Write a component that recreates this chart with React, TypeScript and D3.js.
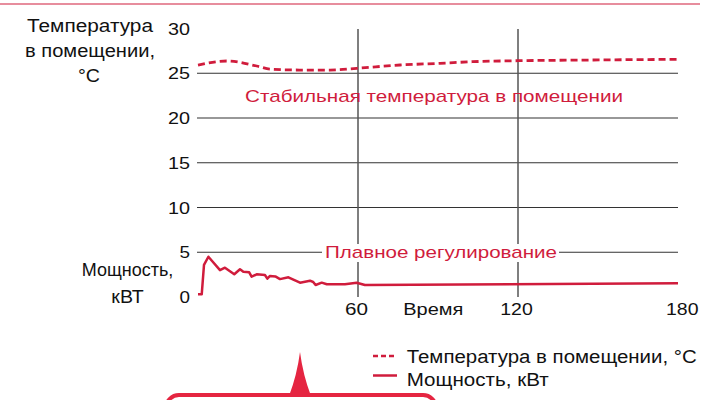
import React from "react";
import * as d3 from "d3";

const timeTicks = [60, 120, 180];
const tempTicks = [0, 5, 10, 15, 20, 25, 30];
const gridValues = [5, 10, 15, 20, 25];

const tempTime = [0, 10.8, 22, 27, 38, 49.5, 59.5, 75.75, 90.75, 103, 120, 148, 180];
const tempValue = [25.92, 26.37, 25.81, 25.47, 25.36, 25.36, 25.55, 25.92, 26.11, 26.29, 26.4, 26.48, 26.56];

const powerTime = [0, 1.4, 2.25, 3.9, 8.25, 10.1, 13.6, 15.75, 17, 19.2, 20.1, 22, 25.1, 26, 27, 29, 30.75, 33.9, 38.25, 42, 43.2, 44.1, 46.4, 48.3, 55.1, 59.5, 62.6, 180];
const powerValue = [0.3, 0.3, 3.58, 4.5, 3.0, 3.27, 2.54, 3.1, 2.83, 2.76, 2.27, 2.54, 2.46, 2.05, 2.35, 2.3, 2.0, 2.2, 1.6, 1.82, 1.68, 1.34, 1.6, 1.42, 1.42, 1.6, 1.34, 1.53];

const RED = "#d01c3c";
const BOX_RED = "#e52541";
const FONT = "'Liberation Sans', Arial, Helvetica, sans-serif";

export default function App() {
  const x = d3.scaleLinear().domain([0, 180]).range([198, 678]);
  const y = d3.scaleLinear().domain([0, 30]).range([297, 28.5]);

  const tempLine = d3
    .line<number>()
    .x((_, i) => x(tempTime[i]))
    .y((d) => y(d))
    .curve(d3.curveMonotoneX)(tempValue);

  const powerLine = d3
    .line<number>()
    .x((_, i) => x(powerTime[i]))
    .y((d) => y(d))(powerValue);

  const T = (props: any) => (
    <text fontFamily={FONT} lengthAdjust="spacingAndGlyphs" {...props} />
  );

  const lastTick = timeTicks[timeTicks.length - 1];

  return (
    <svg
      width={725}
      height={400}
      style={{ position: "absolute", left: 0, top: 0, background: "#fff" }}
    >
      {/* top rule */}
      <line x1={0} x2={700} y1={4} y2={4} stroke={RED} strokeWidth={1.2} />

      {/* horizontal grid */}
      {gridValues.map((v) => (
        <line key={v} x1={197} x2={678} y1={y(v)} y2={y(v)} stroke="#333" strokeWidth={1.2} />
      ))}
      {/* vertical grid */}
      {timeTicks.slice(0, 2).map((t) => (
        <line key={t} x1={x(t)} x2={x(t)} y1={29} y2={297} stroke="#555" strokeWidth={1.5} />
      ))}

      {/* y tick labels */}
      {tempTicks.map((v) => (
        <T key={v} x={190} y={y(v) + 6} fontSize={16.5} textAnchor="end" fill="#111"
          textLength={v >= 10 ? 22 : 10.5}>
          {v}
        </T>
      ))}

      {/* x tick labels */}
      {timeTicks.map((t) => (
        <T key={t}
          x={t === lastTick ? x(t) + 20.5 : x(t) - 1.5}
          y={315} fontSize={16.5}
          textAnchor={t === lastTick ? "end" : "middle"} fill="#111"
          textLength={t >= 100 ? 32.5 : 23}>
          {t}
        </T>
      ))}
      <T x={403.3} y={315} fontSize={16.5} fill="#111" textLength={60}>Время</T>

      {/* axis titles */}
      <T x={90} y={32} fontSize={17.5} textAnchor="middle" fill="#111" textLength={126}>Температура</T>
      <T x={90} y={56.5} fontSize={17.5} textAnchor="middle" fill="#111" textLength={130}>в помещении,</T>
      <T x={89} y={81.5} fontSize={17.5} textAnchor="middle" fill="#111" textLength={22}>°C</T>
      <T x={127.5} y={275.5} fontSize={17.5} textAnchor="middle" fill="#111" textLength={91.6}>Мощность,</T>
      <T x={127.5} y={302.5} fontSize={17.5} textAnchor="middle" fill="#111" textLength={32.3}>кВТ</T>

      {/* annotations */}
      <T x={245} y={101.7} fontSize={17} fill={RED} textLength={378}>
        Стабильная температура в помещении
      </T>
      <rect x={322} y={244} width={237} height={18} fill="#fff" />
      <T x={325} y={257.5} fontSize={17} fill={RED} textLength={232}>
        Плавное регулирование
      </T>

      {/* series */}
      <path d={tempLine ?? ""} fill="none" stroke={RED} strokeWidth={2.8} strokeDasharray="7,4" />
      <path d={powerLine ?? ""} fill="none" stroke={RED} strokeWidth={2.5} strokeLinejoin="round" />

      {/* legend */}
      <line x1={373} x2={397} y1={356} y2={356} stroke={RED} strokeWidth={2.5} strokeDasharray="5,3" />
      <line x1={373} x2={397} y1={375.5} y2={375.5} stroke={RED} strokeWidth={2.5} />
      <T x={406.7} y={363.3} fontSize={18} fill="#111" textLength={290}>Температура в помещении, °C</T>
      <T x={406.7} y={385.7} fontSize={18} fill="#111" textLength={142}>Мощность, кВт</T>

      {/* callout box */}
      <path d="M289,396 Q297,375 300,352 Q303,375 311,396 Z" fill={BOX_RED} />
      <rect x={166} y={395} width={270} height={40} rx={13} fill="#fff" stroke={BOX_RED} strokeWidth={4} />
    </svg>
  );
}
